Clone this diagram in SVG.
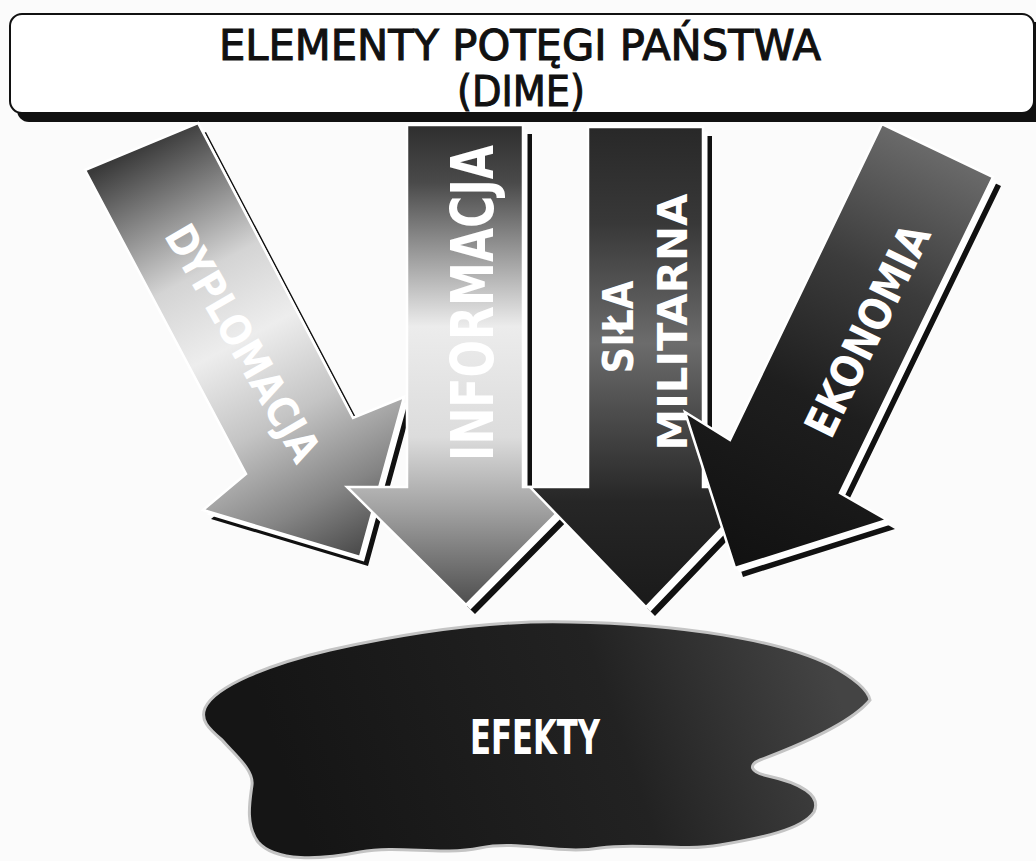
<svg xmlns="http://www.w3.org/2000/svg" width="1036" height="861" viewBox="0 0 1036 861">
<style>
.shadow{fill:#111}
.gap{fill:#fff}
.body{stroke:#fff;stroke-width:2.5;stroke-linejoin:miter}
.lbl{font-family:"DejaVu Sans","Liberation Sans",sans-serif;font-weight:bold;fill:#fff;text-anchor:middle}
.ttl{font-family:"DejaVu Sans","Liberation Sans",sans-serif;fill:#111;stroke:#111;stroke-width:1.1;text-anchor:middle}
</style>
<defs>
<polygon id="pD" points="85,170 198,123 353,418 404,397 360,557 203,510 246,474"/>
<polygon id="pI" points="407,125 523,125 523,487 583,487 466,605 347,487 407,487"/>
<polygon id="pM" points="588,127 703,127 703,487 761,487 646,607 530,487 588,487"/>
<polygon id="pE" points="882,124 993,177 840,493 887,520 735,568 685,412 730,440"/>
<linearGradient id="gD" gradientUnits="userSpaceOnUse" x1="141" y1="146" x2="360" y2="557">
<stop offset="0" stop-color="#3a3a3a"/><stop offset="0.3" stop-color="#d4d4d4"/><stop offset="0.47" stop-color="#ededed"/><stop offset="0.66" stop-color="#c4c4c4"/><stop offset="0.85" stop-color="#858585"/><stop offset="1" stop-color="#484848"/>
</linearGradient>
<linearGradient id="gI" gradientUnits="userSpaceOnUse" x1="465" y1="125" x2="465" y2="605">
<stop offset="0" stop-color="#2e2e2e"/><stop offset="0.12" stop-color="#4a4a4a"/><stop offset="0.42" stop-color="#ececec"/><stop offset="0.65" stop-color="#dcdcdc"/><stop offset="0.8" stop-color="#a2a2a2"/><stop offset="1" stop-color="#4e4e4e"/>
</linearGradient>
<linearGradient id="gM" gradientUnits="userSpaceOnUse" x1="645" y1="127" x2="645" y2="607">
<stop offset="0" stop-color="#282828"/><stop offset="0.2" stop-color="#383838"/><stop offset="0.45" stop-color="#6c6c6c"/><stop offset="0.58" stop-color="#505050"/><stop offset="0.78" stop-color="#262626"/><stop offset="1" stop-color="#1a1a1a"/>
</linearGradient>
<linearGradient id="gE" gradientUnits="userSpaceOnUse" x1="937" y1="150" x2="735" y2="568">
<stop offset="0" stop-color="#6a6a6a"/><stop offset="0.3" stop-color="#3c3c3c"/><stop offset="0.6" stop-color="#1e1e1e"/><stop offset="1" stop-color="#111"/>
</linearGradient>
<linearGradient id="gB" gradientUnits="userSpaceOnUse" x1="300" y1="820" x2="820" y2="640">
<stop offset="0" stop-color="#151515"/><stop offset="0.6" stop-color="#222"/><stop offset="1" stop-color="#444"/>
</linearGradient>
</defs>
<rect width="1036" height="861" fill="#fbfbfb"/>

<g id="title">
<rect x="17" y="22" width="1030" height="100" rx="12" fill="#111"/>
<rect x="10" y="14" width="1024" height="99" rx="12" fill="#fff" stroke="#111" stroke-width="2"/>
<text class="ttl" x="520" y="60" font-size="43" textLength="602" lengthAdjust="spacingAndGlyphs">ELEMENTY POTĘGI PAŃSTWA</text>
<text class="ttl" x="521" y="106" font-size="43" textLength="128" lengthAdjust="spacingAndGlyphs">(DIME)</text>
</g>

<g id="connectors">
<g id="arrow-dyplomacja">
<use href="#pD" class="shadow" transform="translate(8,9)"/>
<use href="#pD" class="gap" transform="translate(4,4.5)"/>
<use href="#pD" class="body" fill="url(#gD)"/>
<text class="lbl" transform="translate(243,343) rotate(60)" y="15" font-size="42" textLength="266" lengthAdjust="spacingAndGlyphs">DYPLOMACJA</text>
</g>
<g id="arrow-informacja">
<use href="#pI" class="shadow" transform="translate(9,9)"/>
<use href="#pI" class="gap" transform="translate(4.5,4.5)"/>
<use href="#pI" class="body" fill="url(#gI)"/>
<text class="lbl" transform="translate(472,303) rotate(-90)" y="21" font-size="58" textLength="316" lengthAdjust="spacingAndGlyphs">INFORMACJA</text>
</g>
<g id="arrow-militarna">
<use href="#pM" class="shadow" transform="translate(9,9)"/>
<use href="#pM" class="gap" transform="translate(4.5,4.5)"/>
<use href="#pM" class="body" fill="url(#gM)"/>
<text class="lbl" transform="translate(618,327) rotate(-90)" y="15" font-size="42" textLength="93" lengthAdjust="spacingAndGlyphs">SIŁA</text>
<text class="lbl" transform="translate(673,322) rotate(-90)" y="14" font-size="40" textLength="257" lengthAdjust="spacingAndGlyphs">MILITARNA</text>
</g>
<g id="arrow-ekonomia">
<use href="#pE" class="shadow" transform="translate(8,9)"/>
<use href="#pE" class="gap" transform="translate(4,4.5)"/>
<use href="#pE" class="body" fill="url(#gE)"/>
<text class="lbl" transform="translate(867,330) rotate(-64)" y="16" font-size="44" textLength="230" lengthAdjust="spacingAndGlyphs">EKONOMIA</text>
</g>
</g>

<g id="efekty">
<path d="M205,708 C215,686 270,664 330,650 C420,630 500,620 570,622 C680,624 780,640 830,665 C852,677 868,690 870,700 C852,722 800,745 760,760 C748,765 750,772 768,776 C800,783 822,795 814,812 C802,830 760,838 720,845 C680,852 640,842 600,848 C560,855 520,840 480,848 C440,856 400,845 360,852 C320,860 275,862 258,842 C245,825 250,800 252,785 C254,770 235,755 222,740 C208,728 200,720 205,708 Z" fill="url(#gB)" stroke="#c4c4c4" stroke-width="3"/>
<text class="lbl" x="535" y="754" font-size="48" textLength="130" lengthAdjust="spacingAndGlyphs">EFEKTY</text>
</g>
</svg>
